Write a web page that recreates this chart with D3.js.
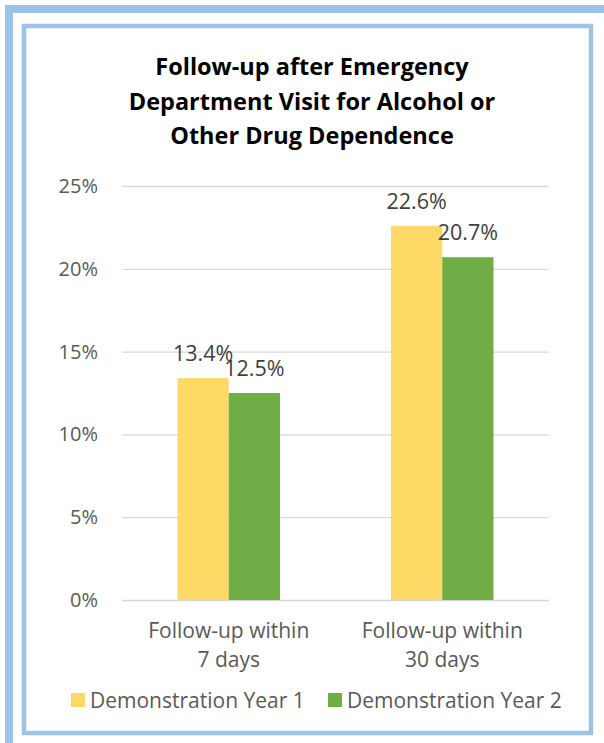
<!DOCTYPE html>
<html>
<head>
<meta charset="utf-8">
<script src="https://cdn.jsdelivr.net/npm/d3@7"></script>
<style>
  html, body { margin: 0; padding: 0; background: #fff; }
  svg { display: block; }
</style>
</head>
<body>
<svg id="chart" width="604" height="743"></svg>
<script>
// Chart data
const categories = ["Follow-up within\n7 days", "Follow-up within\n30 days"];
const seriesNames = ["Demonstration Year 1", "Demonstration Year 2"];
const year1 = [13.4, 22.6];
const year2 = [12.5, 20.7];
const yTicks = [0, 5, 10, 15, 20, 25];
const titleLines = ["Follow-up after Emergency", "Department Visit for Alcohol or", "Other Drug Dependence"];
const colors = ["#FFD966", "#70AD47"];

const svg = d3.select("#chart");
const font = "'Open Sans', 'Noto Sans', sans-serif";

// Page frame: outer band along top/left, inner box around chart
svg.append("rect").attr("x", 5).attr("y", 5).attr("width", 604).attr("height", 8).attr("fill", "#9DC3E6");
svg.append("rect").attr("x", 5).attr("y", 5).attr("width", 8).attr("height", 743).attr("fill", "#9DC3E6");
svg.append("rect").attr("x", 24).attr("y", 26).attr("width", 567).attr("height", 707)
  .attr("fill", "#fff").attr("stroke", "#9DC3E6").attr("stroke-width", 4.5);

// Title
svg.append("g").selectAll("text").data(titleLines).join("text")
  .attr("x", 312).attr("y", (d, i) => 75 + i * 34.5)
  .attr("text-anchor", "middle")
  .attr("font-family", font).attr("font-weight", "bold").attr("font-size", 23.5)
  .attr("fill", "#000").text(d => d);

// Scales
const plot = { left: 122, right: 549, top: 186, bottom: 600 };
const x0 = d3.scaleBand().domain(d3.range(categories.length)).range([plot.left, plot.right]).paddingInner(0).paddingOuter(0);
const y = d3.scaleLinear().domain([0, 25]).range([plot.bottom, plot.top]);
const groupW = x0.bandwidth() * 0.48;
const x1 = d3.scaleBand().domain([0, 1]).range([-groupW / 2, groupW / 2]);

// Gridlines + y tick labels via axis
const yAxis = d3.axisLeft(y).tickValues(yTicks).tickFormat(d => d + "%")
  .tickSize(-(plot.right - plot.left)).tickPadding(24);
const ga = svg.append("g").attr("transform", `translate(${plot.left},0)`).call(yAxis);
ga.select(".domain").remove();
ga.selectAll(".tick line").attr("stroke", "#D9D9D9").attr("stroke-width", 1.3);
ga.selectAll(".tick text").attr("font-family", font).attr("font-size", 20).attr("fill", "#595959");

// Bars
const series = [year1, year2];
series.forEach((vals, s) => {
  const g = svg.append("g");
  g.selectAll("rect").data(vals).join("rect")
    .attr("x", (d, i) => x0(i) + x0.bandwidth() / 2 + x1(s))
    .attr("width", x1.bandwidth())
    .attr("y", d => y(d))
    .attr("height", d => y(0) - y(d))
    .attr("fill", colors[s]);
  g.selectAll("text").data(vals).join("text")
    .attr("x", (d, i) => x0(i) + x0.bandwidth() / 2 + x1(s) + x1.bandwidth() / 2)
    .attr("y", d => y(d) - 17)
    .attr("text-anchor", "middle")
    .attr("font-family", font).attr("font-size", 21.5).attr("fill", "#404040")
    .text(d => d.toFixed(1) + "%");
});

// Category labels
categories.forEach((c, i) => {
  const t = svg.append("text")
    .attr("x", x0(i) + x0.bandwidth() / 2).attr("y", 638)
    .attr("text-anchor", "middle")
    .attr("font-family", font).attr("font-size", 21).attr("fill", "#595959");
  c.split("\n").forEach((line, j) => {
    t.append("tspan").attr("x", x0(i) + x0.bandwidth() / 2).attr("dy", j === 0 ? 0 : 29).text(line);
  });
});

// Legend
const legendX = [71, 328];
seriesNames.forEach((name, s) => {
  svg.append("rect").attr("x", legendX[s]).attr("y", 693).attr("width", 14).attr("height", 14).attr("fill", colors[s]);
  svg.append("text").attr("x", legendX[s] + 19).attr("y", 708)
    .attr("font-family", font).attr("font-size", 21).attr("fill", "#595959").text(name);
});
</script>
</body>
</html>
